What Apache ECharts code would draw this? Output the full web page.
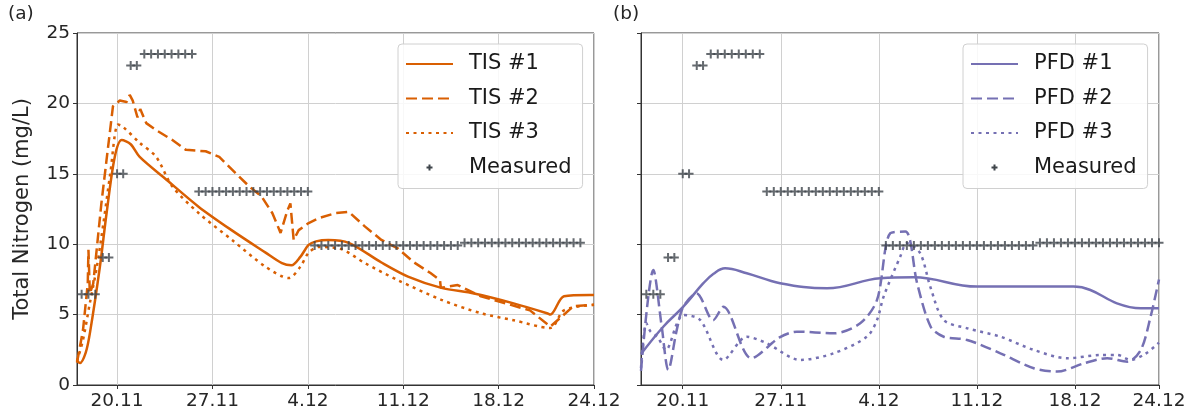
<!DOCTYPE html>
<html>
<head>
<meta charset="utf-8">
<script src="https://cdn.jsdelivr.net/npm/echarts@6/dist/echarts.min.js"></script>
<style>
html,body{margin:0;padding:0;background:#fff}
#chart{width:1190px;height:411px}
</style>
</head>
<body>
<div id="chart"></div>
<script>
// x = days since 20.11
var xTicksA = [0, 7, 14, 21, 28, 35];
var xTicksB = [0, 7, 14, 21, 28, 34];
var xTickLabels = ['20.11', '27.11', '4.12', '11.12', '18.12', '24.12'];

// measured total nitrogen (twice a day)
var measDays = [-2.6, -2.1, -1.6, -1.05, -0.6, 0, 0.45, 1.0, 1.45,
    2.0, 2.5, 3.0, 3.5, 4.0, 4.5, 5.0, 5.5,
    6.0, 6.5, 7.0, 7.5, 8.0, 8.5, 9.0, 9.5, 10.0, 10.5, 11.0, 11.5, 12.0, 12.5, 13.0, 13.5, 14.0,
    14.5, 15.0, 15.5, 16.0, 16.5, 17.0, 17.5, 18.0, 18.5, 19.0, 19.5, 20.0, 20.5, 21.0, 21.5, 22.0, 22.5, 23.0, 23.5, 24.0, 24.5, 25.0,
    25.5, 26.0, 26.5, 27.0, 27.5, 28.0, 28.5, 29.0, 29.5, 30.0, 30.5, 31.0, 31.5, 32.0, 32.5, 33.0, 33.5, 34.0];
var measVals = [6.45, 6.45, 6.45, 9.05, 9.05, 15.0, 15.0, 22.7, 22.7,
    23.5, 23.5, 23.5, 23.5, 23.5, 23.5, 23.5, 23.5,
    13.75, 13.75, 13.75, 13.75, 13.75, 13.75, 13.75, 13.75, 13.75, 13.75, 13.75, 13.75, 13.75, 13.75, 13.75, 13.75, 13.75,
    9.9, 9.9, 9.9, 9.9, 9.9, 9.9, 9.9, 9.9, 9.9, 9.9, 9.9, 9.9, 9.9, 9.9, 9.9, 9.9, 9.9, 9.9, 9.9, 9.9, 9.9, 9.9,
    10.1, 10.1, 10.1, 10.1, 10.1, 10.1, 10.1, 10.1, 10.1, 10.1, 10.1, 10.1, 10.1, 10.1, 10.1, 10.1, 10.1, 10.1];

var tis1 = [[-2.94,1.7],[-2.72,1.56],[-2.3,2.3],[-1.99,3.7],[-1.26,8.4],[-0.77,12.2],[-0.17,16.2],[0.34,17.4],
    [1.0,17.1],[1.66,16.2],[3.6,14.6],[6.0,12.65],[8.4,11.0],[10.9,9.4],[12.1,8.65],[12.8,8.5],[13.45,9.1],
    [14.06,9.95],[14.6,10.2],[15.5,10.3],[17.0,10.1],[19.4,8.7],[21.35,7.7],[23.8,6.9],[26.2,6.5],[29.1,5.8],
    [31.55,5.1],[31.8,5.0],[32.8,6.3],[34.7,6.4],[35,6.4]];
var tis2 = [[-2.94,1.6],[-2.5,3.9],[-2.15,7.2],[-2.1,9.6],[-2.0,6.5],[-1.75,7.2],[-1.15,12.9],[-0.77,16],
    [-0.3,19.8],[0.2,20.2],[0.7,20.1],[0.93,20.6],[1.15,20.2],[1.5,19.0],[1.7,19.6],[2.14,18.6],[2.87,18.1],
    [4.06,17.4],[5.06,16.7],[6.5,16.6],[7.5,16.2],[8.44,15.3],[9.7,14.1],[10.6,13.4],[11.4,12.2],[12.0,10.8],
    [12.5,12.4],[12.72,12.9],[12.96,10.3],[13.33,11.0],[14.06,11.5],[14.8,11.85],[16.0,12.2],[17.0,12.3],
    [18.2,11.25],[19.4,10.3],[20.6,9.7],[21.8,8.7],[23.0,7.95],[23.7,7.45],[23.76,6.9],[25.0,7.1],[26.7,6.3],
    [30.3,5.3],[31.8,4.15],[32.5,4.75],[33.5,5.6],[35,5.7]];
var tis3 = [[-2.94,1.7],[-2.5,3.2],[-2.0,5.8],[-1.5,8.3],[-1.0,11.5],[-0.5,15.0],[0.07,18.5],[0.42,18.35],
    [1.66,17.2],[2.87,16.2],[4.06,14.1],[6.0,12.2],[8.44,10.3],[10.9,8.4],[12.6,7.6],[13.45,8.4],[14.06,9.4],
    [14.8,9.8],[16.3,9.7],[18.2,8.65],[20.6,7.45],[23.8,6.05],[26.7,5.1],[29.1,4.6],[31.8,4.05],[32.8,5.3],[35,5.7]];

var pfd1 = [[-2.98,2.2],[-1.39,4.14],[0.04,5.56],[1.47,7.23],[2.2,7.9],[3.02,8.29],[4.57,7.94],[6.95,7.23],
    [10.3,6.87],[14.1,7.58],[16.5,7.65],[21.0,6.99],[27.9,6.99],[29.1,6.75],[31.0,5.8],[32.7,5.45],[34.0,5.45]];
var pfd2 = [[-2.98,1.0],[-2.1,8.17],[-1.5,4.14],[-1.03,1.07],[-0.43,3.9],[0.04,5.56],[0.99,6.5],[2.17,4.6],
    [2.9,5.56],[4.9,1.9],[6.95,3.4],[8.15,3.79],[10.77,3.67],[12.67,4.38],[13.87,6.04],[14.82,10.78],[15.9,10.9],
    [16.73,7.23],[17.7,4.14],[18.63,3.43],[20.3,3.2],[22.68,2.25],[25.06,1.19],[26.73,0.95],[28.64,1.54],
    [30.3,1.9],[31.74,1.66],[32.7,2.49],[33.4,4.85],[34.0,7.5]];
var pfd3 = [[-2.98,1.2],[-2.6,4.4],[-2.3,3.8],[-1.8,3.4],[-1.2,2.5],[-0.4,4.4],[0.04,4.97],[1.24,4.62],
    [2.9,1.78],[4.57,3.43],[6.0,2.96],[8.39,1.78],[10.77,2.25],[13.15,3.43],[13.87,4.62],[14.34,6.28],
    [15.53,9.12],[16.0,10.07],[16.95,9.36],[17.67,6.99],[18.63,4.62],[20.3,4.03],[22.68,3.43],[25.06,2.49],
    [27.45,1.9],[29.83,2.13],[31.02,2.13],[31.98,1.78],[33.0,2.2],[34.0,3.0]];

var ORANGE = '#d95f02';
var PURPLE = '#7570b3';
var GREY = '#3f454b';
var FONT = 'DejaVu Sans';
var DASH = [11, 5];
var DOT = [3, 4.5];
var plusIcon = 'path://M3.5,0H5.5V3.5H9V5.5H5.5V9H3.5V5.5H0V3.5H3.5Z';
var legendPlus = 'path://M0,0L0.01,0L0,0.01ZM47,24L46.99,24L47,23.99ZM20.5,11H26.5V13H20.5ZM22.5,9H24.5V15H22.5Z';

var measured = measDays.map(function (d, i) { return [d, measVals[i]]; });

function xAxisFor(idx, min, max, ticks) {
    return {
        gridIndex: idx, type: 'value', min: min, max: max,
        axisLine: { onZero: false, lineStyle: { color: '#333', width: 1 } },
        axisTick: { show: true, length: 4, customValues: ticks, lineStyle: { color: '#333' } },
        axisLabel: {
            customValues: ticks, margin: 7, fontSize: 18.5, fontFamily: FONT, color: '#262626',
            formatter: function (v) { return xTickLabels[ticks.indexOf(v)]; }
        },
        splitLine: { show: true, lineStyle: { color: '#d0d0d0', width: 1 } }
    };
}
function yAxisFor(idx, showLabels) {
    return {
        gridIndex: idx, type: 'value', min: 0, max: 25, interval: 5,
        name: showLabels ? 'Total Nitrogen (mg/L)' : '',
        nameLocation: 'middle', nameGap: 44,
        nameTextStyle: { fontSize: 21, fontFamily: FONT, color: '#262626' },
        axisLine: { show: true, onZero: false, lineStyle: { color: '#333', width: 1 } },
        axisTick: { show: true, length: 4, lineStyle: { color: '#333' } },
        axisLabel: { show: showLabels, margin: 7, fontSize: 18.5, fontFamily: FONT, color: '#262626' },
        splitLine: { show: true, lineStyle: { color: '#d0d0d0', width: 1 } }
    };
}
function lineSeries(name, data, idx, color, dash, smooth) {
    return {
        name: name, type: 'line', xAxisIndex: idx, yAxisIndex: idx, data: data,
        symbol: 'none', smooth: smooth,
        lineStyle: { color: color, width: 2.5, type: dash },
        itemStyle: { color: color }, z: 2
    };
}
function measSeries(idx) {
    return {
        name: 'Measured', type: 'scatter', xAxisIndex: idx, yAxisIndex: idx, data: measured,
        symbol: plusIcon, symbolSize: 9, itemStyle: { color: GREY }, z: 5
    };
}
function legendFor(left, names) {
    return {
        left: left, top: 44, orient: 'vertical', selectedMode: false,
        itemWidth: 47, itemHeight: 24, itemGap: 10.5,
        padding: [8, 11, 9, 7],
        itemStyle: { opacity: 0 },
        backgroundColor: 'rgba(255,255,255,0.85)', borderColor: '#d0d0d0', borderWidth: 1, borderRadius: 4,
        textStyle: { fontSize: 21, lineHeight: 24, fontFamily: FONT, color: '#1a1a1a', padding: [0, 0, 0, 11] },
        data: [names[0], names[1], names[2],
            { name: 'Measured', icon: legendPlus, itemStyle: { color: GREY, opacity: 1 } }]
    };
}

var myChart = echarts.init(document.getElementById('chart'));
var option = {
    animation: false,
    backgroundColor: '#fff',
    grid: [
        { left: 77, right: 596, top: 33, bottom: 26, show: true, borderColor: '#333', borderWidth: 1, backgroundColor: '#fff' },
        { left: 641, right: 31, top: 33, bottom: 26, show: true, borderColor: '#333', borderWidth: 1, backgroundColor: '#fff' }
    ],
    xAxis: [xAxisFor(0, -2.94, 35, xTicksA), xAxisFor(1, -2.98, 34, xTicksB)],
    yAxis: [yAxisFor(0, true), yAxisFor(1, false)],
    legend: [
        legendFor(398, ['TIS #1', 'TIS #2', 'TIS #3']),
        legendFor(963, ['PFD #1', 'PFD #2', 'PFD #3'])
    ],
    graphic: [
        { type: 'text', left: 8, top: 5, style: { text: '(a)', fontSize: 18.5, fontFamily: FONT, fill: '#262626' } },
        { type: 'text', left: 613, top: 5, style: { text: '(b)', fontSize: 18.5, fontFamily: FONT, fill: '#262626' } }
    ],
    series: [
        lineSeries('TIS #1', tis1, 0, ORANGE, 'solid', 0.3),
        lineSeries('TIS #2', tis2, 0, ORANGE, DASH, false),
        lineSeries('TIS #3', tis3, 0, ORANGE, DOT, 0.3),
        measSeries(0),
        lineSeries('PFD #1', pfd1, 1, PURPLE, 'solid', 0.4),
        lineSeries('PFD #2', pfd2, 1, PURPLE, DASH, 0.3),
        lineSeries('PFD #3', pfd3, 1, PURPLE, DOT, 0.3),
        measSeries(1)
    ]
};
myChart.setOption(option);
</script>
</body>
</html>
